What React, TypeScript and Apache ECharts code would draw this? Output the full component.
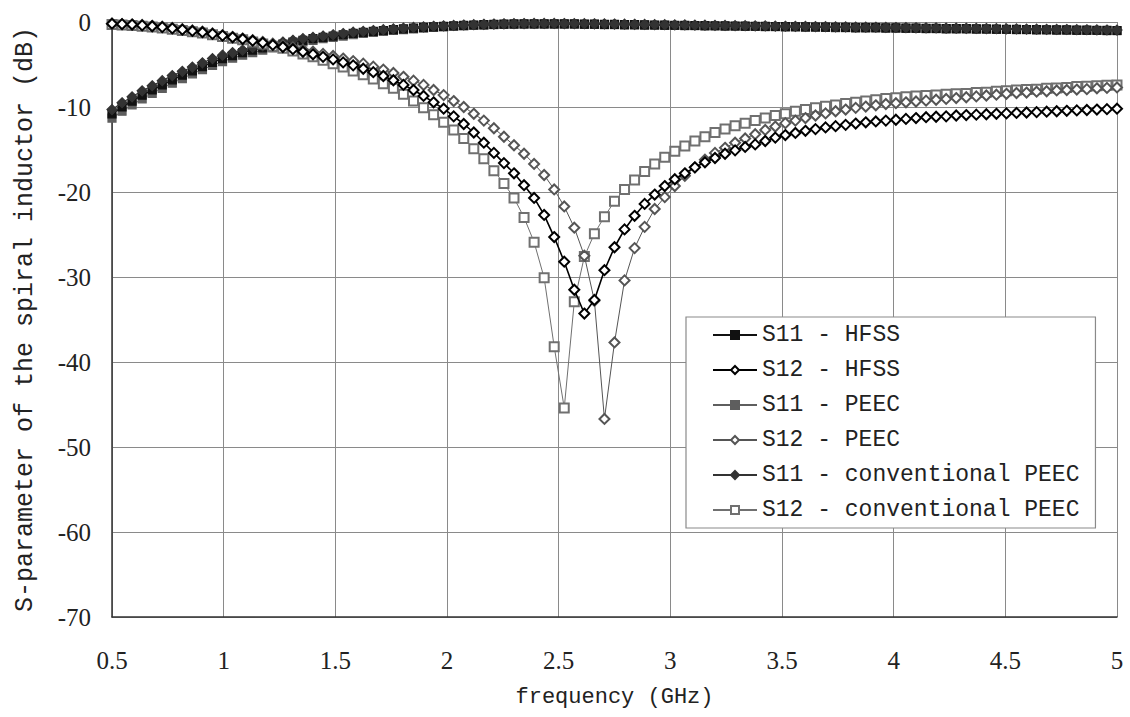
import React, { useEffect, useRef } from "react";
import * as echarts from "echarts";

const freq = [
  0.5, 0.545, 0.59, 0.635, 0.68, 0.725, 0.77, 0.815, 0.86, 0.905,
  0.95, 0.995, 1.04, 1.085, 1.13, 1.175, 1.22, 1.265, 1.31, 1.355,
  1.4, 1.445, 1.49, 1.535, 1.58, 1.625, 1.67, 1.715, 1.76, 1.805,
  1.85, 1.895, 1.94, 1.985, 2.03, 2.075, 2.12, 2.165, 2.21, 2.255,
  2.3, 2.345, 2.39, 2.435, 2.48, 2.525, 2.57, 2.615, 2.66, 2.705,
  2.75, 2.795, 2.84, 2.885, 2.93, 2.975, 3.02, 3.065, 3.11, 3.155,
  3.2, 3.245, 3.29, 3.335, 3.38, 3.425, 3.47, 3.515, 3.56, 3.605,
  3.65, 3.695, 3.74, 3.785, 3.83, 3.875, 3.92, 3.965, 4.01, 4.055,
  4.1, 4.145, 4.19, 4.235, 4.28, 4.325, 4.37, 4.415, 4.46, 4.505,
  4.55, 4.595, 4.64, 4.685, 4.73, 4.775, 4.82, 4.865, 4.91, 4.955, 5.0,
];

const s11Hfss = [
  -10.8, -10.0, -9.3, -8.6, -8.0, -7.4, -6.8, -6.25, -5.75, -5.25,
  -4.75, -4.3, -3.95, -3.6, -3.3, -3.05, -2.8, -2.6, -2.35, -2.15,
  -1.95, -1.8, -1.65, -1.5, -1.35, -1.22, -1.1, -1.0, -0.9, -0.8,
  -0.72, -0.64, -0.57, -0.51, -0.45, -0.4, -0.35, -0.31, -0.28, -0.25,
  -0.23, -0.22, -0.21, -0.21, -0.21, -0.22, -0.23, -0.24, -0.25, -0.27,
  -0.28, -0.3, -0.32, -0.33, -0.35, -0.36, -0.38, -0.39, -0.41, -0.42,
  -0.44, -0.45, -0.47, -0.48, -0.5, -0.51, -0.53, -0.55, -0.56, -0.57,
  -0.59, -0.6, -0.62, -0.63, -0.65, -0.66, -0.67, -0.69, -0.7, -0.71,
  -0.73, -0.74, -0.75, -0.77, -0.78, -0.79, -0.81, -0.82, -0.84, -0.85,
  -0.86, -0.88, -0.89, -0.91, -0.92, -0.93, -0.95, -0.96, -0.97, -0.99, -1.0,
];

const s12Hfss = [
  -0.2, -0.25, -0.3, -0.4, -0.5, -0.6, -0.75, -0.9, -1.05, -1.2,
  -1.4, -1.6, -1.8, -2.0, -2.2, -2.45, -2.7, -2.95, -3.2, -3.5,
  -3.8, -4.1, -4.4, -4.75, -5.1, -5.5, -5.9, -6.35, -6.85, -7.4,
  -8.0, -8.7, -9.45, -10.2, -11.1, -12.0, -13.0, -14.2, -15.4, -16.6,
  -17.8, -19.2, -20.7, -22.7, -25.3, -28.2, -31.5, -34.3, -32.7, -29.2,
  -26.5, -24.4, -22.8, -21.4, -20.3, -19.3, -18.5, -17.8, -17.1, -16.5,
  -16.0, -15.5, -15.1, -14.7, -14.4, -14.0, -13.6, -13.3, -13.05, -12.8,
  -12.6, -12.4, -12.25, -12.1, -11.95, -11.8, -11.7, -11.6, -11.5, -11.4,
  -11.3, -11.2, -11.15, -11.1, -11.0, -10.95, -10.9, -10.85, -10.8, -10.75,
  -10.7, -10.65, -10.6, -10.55, -10.5, -10.45, -10.4, -10.35, -10.3, -10.25, -10.2,
];

const s11Peec = [
  -11.3, -10.5, -9.75, -9.05, -8.4, -7.8, -7.2, -6.65, -6.1, -5.6,
  -5.1, -4.65, -4.25, -3.9, -3.6, -3.3, -3.05, -2.8, -2.55, -2.35,
  -2.15, -1.95, -1.8, -1.65, -1.5, -1.35, -1.22, -1.1, -1.0, -0.9,
  -0.8, -0.72, -0.64, -0.57, -0.5, -0.45, -0.4, -0.36, -0.32, -0.29,
  -0.27, -0.25, -0.24, -0.24, -0.24, -0.25, -0.26, -0.27, -0.29, -0.3,
  -0.32, -0.33, -0.35, -0.36, -0.38, -0.39, -0.41, -0.42, -0.44, -0.45,
  -0.47, -0.48, -0.5, -0.51, -0.53, -0.54, -0.56, -0.58, -0.59, -0.6,
  -0.62, -0.63, -0.65, -0.66, -0.68, -0.69, -0.7, -0.72, -0.73, -0.74,
  -0.76, -0.77, -0.78, -0.8, -0.81, -0.82, -0.84, -0.85, -0.87, -0.88,
  -0.89, -0.91, -0.92, -0.94, -0.95, -0.96, -0.98, -0.99, -1.0, -1.02, -1.03,
];

const s12Peec = [
  -0.2, -0.25, -0.3, -0.35, -0.45, -0.55, -0.7, -0.85, -1.0, -1.15,
  -1.35, -1.55, -1.75, -1.95, -2.15, -2.35, -2.55, -2.75, -3.0, -3.25,
  -3.5, -3.75, -4.0, -4.3, -4.6, -4.9, -5.25, -5.6, -6.0, -6.45,
  -6.9, -7.4, -8.0, -8.6, -9.3, -10.0, -10.8, -11.6, -12.5, -13.5,
  -14.5, -15.5, -16.7, -18.0, -19.7, -21.7, -24.2, -27.5, -32.8, -46.7,
  -37.7, -30.4, -26.6, -24.1, -22.0, -20.6, -19.3, -18.1, -17.1, -16.2,
  -15.4, -14.8, -14.2, -13.7, -13.2, -12.7, -12.3, -11.9, -11.6, -11.3,
  -11.0, -10.75, -10.5, -10.3, -10.1, -9.95, -9.8, -9.65, -9.55, -9.45,
  -9.35, -9.25, -9.15, -9.05, -8.95, -8.85, -8.75, -8.65, -8.55, -8.45,
  -8.35, -8.3, -8.2, -8.15, -8.05, -8.0, -7.95, -7.9, -7.8, -7.75, -7.7,
];

const s11Conv = [
  -10.3, -9.5, -8.8, -8.1, -7.5, -6.9, -6.3, -5.8, -5.3, -4.8,
  -4.3, -3.9, -3.6, -3.3, -3.0, -2.8, -2.55, -2.35, -2.15, -1.95,
  -1.8, -1.65, -1.5, -1.35, -1.2, -1.1, -1.0, -0.9, -0.8, -0.72,
  -0.64, -0.57, -0.5, -0.45, -0.4, -0.35, -0.31, -0.27, -0.24, -0.21,
  -0.19, -0.18, -0.17, -0.17, -0.17, -0.18, -0.19, -0.2, -0.21, -0.22,
  -0.24, -0.25, -0.27, -0.28, -0.3, -0.31, -0.33, -0.34, -0.36, -0.37,
  -0.39, -0.4, -0.42, -0.43, -0.45, -0.46, -0.48, -0.5, -0.51, -0.52,
  -0.54, -0.55, -0.57, -0.58, -0.6, -0.61, -0.62, -0.64, -0.65, -0.66,
  -0.68, -0.69, -0.7, -0.72, -0.73, -0.74, -0.76, -0.77, -0.79, -0.8,
  -0.81, -0.83, -0.84, -0.86, -0.87, -0.88, -0.9, -0.91, -0.92, -0.94, -0.95,
];

const s12Conv = [
  -0.3, -0.35, -0.4, -0.5, -0.6, -0.7, -0.85, -1.0, -1.15, -1.3,
  -1.5, -1.7, -1.9, -2.1, -2.35, -2.6, -2.85, -3.1, -3.4, -3.75,
  -4.1, -4.5, -4.9, -5.3, -5.75, -6.2, -6.7, -7.25, -7.8, -8.5,
  -9.3, -10.1, -10.9, -11.8, -12.7, -13.7, -14.9, -16.1, -17.5, -19.0,
  -20.7, -23.0, -25.9, -30.1, -38.2, -45.4, -32.9, -27.6, -24.9, -22.9,
  -21.1, -19.7, -18.6, -17.6, -16.7, -15.9, -15.2, -14.6, -14.0, -13.5,
  -13.0, -12.6, -12.2, -11.9, -11.6, -11.3, -11.0, -10.8, -10.5, -10.3,
  -10.1, -9.9, -9.75, -9.6, -9.45, -9.3, -9.15, -9.0, -8.9, -8.8,
  -8.7, -8.65, -8.6, -8.5, -8.45, -8.4, -8.3, -8.25, -8.15, -8.1,
  -8.0, -7.95, -7.9, -7.8, -7.75, -7.7, -7.6, -7.55, -7.5, -7.45, -7.4,
];

const seriesNames = [
  "S11 - HFSS",
  "S12 - HFSS",
  "S11 - PEEC",
  "S12 - PEEC",
  "S11 - conventional PEEC",
  "S12 - conventional PEEC",
];

const MONO = '"Liberation Mono", "DejaVu Sans Mono", monospace';
const SERIF = '"Liberation Serif", "DejaVu Serif", serif';

function pairs(ys: number[]) {
  return ys.map((y, i) => [freq[i], y]);
}

function mkSeries(
  name: string,
  ys: number[],
  symbol: string,
  size: number,
  color: string,
  width: number,
  z: number
) {
  return {
    name,
    type: "line",
    data: pairs(ys),
    symbol,
    symbolSize: size,
    showSymbol: true,
    showAllSymbol: true,
    z,
    lineStyle: { color, width },
    itemStyle: { color, borderColor: color, borderWidth: 1.2 },
    emphasis: { disabled: true },
  };
}

export default function App() {
  const ref = useRef<HTMLDivElement>(null);

  useEffect(() => {
    if (!ref.current) return;
    const chart = echarts.init(ref.current, undefined, { renderer: "svg" });
    chart.setOption({
      animation: false,
      backgroundColor: "#ffffff",
      grid: {
        left: 112,
        right: 13,
        top: 22,
        bottom: 100,
        containLabel: false,
        outerBoundsMode: "none",
      },
      xAxis: {
        type: "value",
        min: 0.5,
        max: 5,
        interval: 0.5,
        name: "frequency (GHz)",
        nameLocation: "middle",
        nameGap: 69,
        nameTextStyle: { fontFamily: MONO, fontSize: 22, color: "#222" },
        axisLine: { show: true, onZero: false, lineStyle: { color: "#333", width: 1.5 } },
        axisTick: { show: false },
        axisLabel: {
          margin: 31,
          fontFamily: SERIF,
          fontSize: 25,
          color: "#222",
          formatter: (v: number) => String(v),
        },
        splitLine: { show: true, lineStyle: { color: "#8a8a8a", width: 1 } },
      },
      yAxis: {
        type: "value",
        min: -70,
        max: 0,
        interval: 10,
        name: "S-parameter of the spiral inductor (dB)",
        nameLocation: "middle",
        nameGap: 74,
        nameTextStyle: { fontFamily: MONO, fontSize: 25, color: "#222" },
        axisLine: { show: true, onZero: false, lineStyle: { color: "#333", width: 1.5 } },
        axisTick: { show: false },
        axisLabel: {
          margin: 21,
          fontFamily: SERIF,
          fontSize: 25,
          color: "#222",
          formatter: (v: number) => String(v),
        },
        splitLine: { show: true, lineStyle: { color: "#8a8a8a", width: 1 } },
      },
      legend: {
        orient: "vertical",
        left: 686,
        top: 317,
        itemWidth: 44,
        itemHeight: 10,
        itemGap: 11,
        padding: [6, 16, 6, 26],
        backgroundColor: "#ffffff",
        borderColor: "#8a8a8a",
        borderWidth: 1.2,
        textStyle: { fontFamily: MONO, fontSize: 23, color: "#222", lineHeight: 24 },
        data: seriesNames,
      },
      series: [
        mkSeries(seriesNames[0], s11Hfss, "rect", 8, "#111111", 1.5, 3),
        mkSeries(seriesNames[1], s12Hfss, "emptyDiamond", 10, "#000000", 1.6, 6),
        mkSeries(seriesNames[2], s11Peec, "rect", 8, "#5e5e5e", 1, 2),
        mkSeries(seriesNames[3], s12Peec, "emptyDiamond", 10, "#555555", 1, 5),
        mkSeries(seriesNames[4], s11Conv, "diamond", 10, "#333333", 1.2, 4),
        mkSeries(seriesNames[5], s12Conv, "emptyRect", 9, "#707070", 1, 4),
      ],
    });
    return () => chart.dispose();
  }, []);

  return (
    <div
      ref={ref}
      style={{ position: "fixed", left: 0, top: 0, width: 1130, height: 717, background: "#fff" }}
    />
  );
}
